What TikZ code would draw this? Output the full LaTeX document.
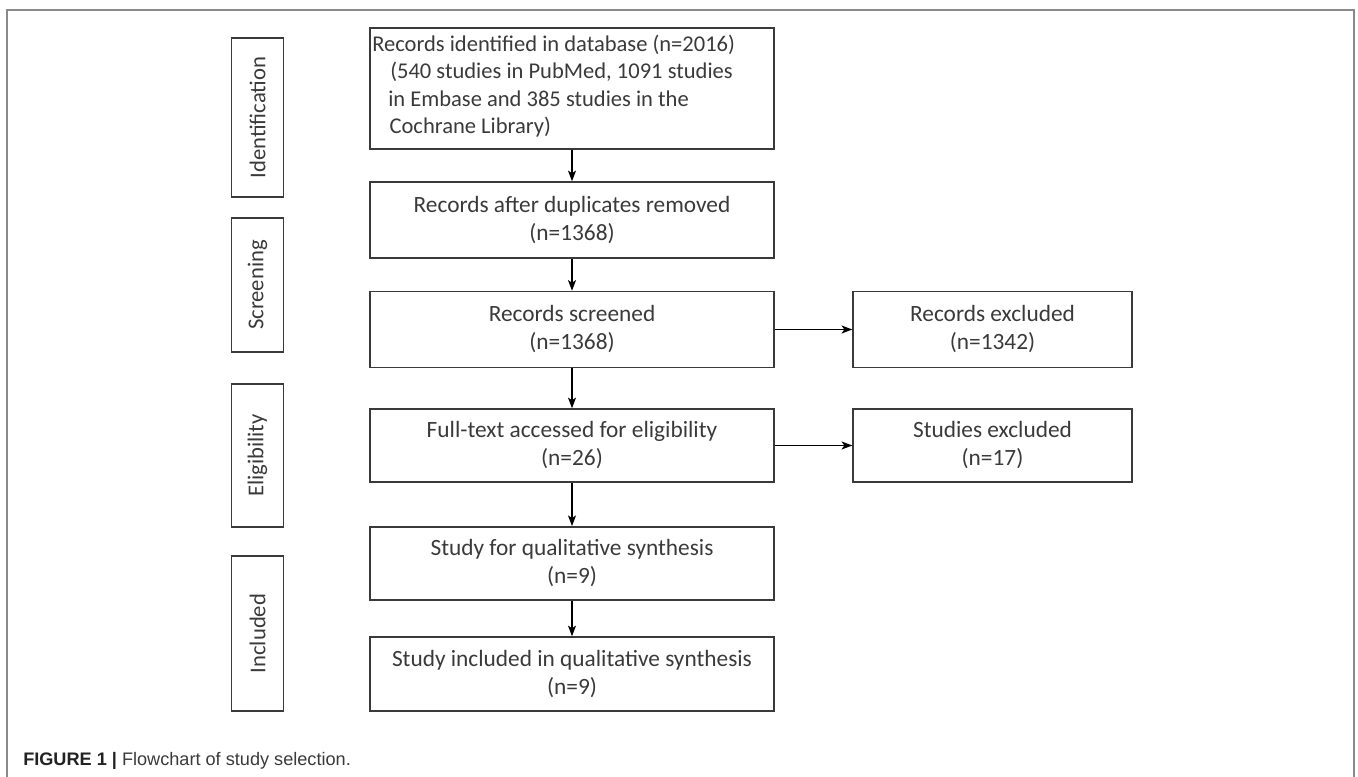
\documentclass[tikz,border=0pt]{standalone}
\usepackage{fontspec}
\setmainfont{Carlito}
\newfontfamily\capfont{Liberation Sans}
\usetikzlibrary{arrows.meta}
\definecolor{boxc}{HTML}{3A3A3A}
\definecolor{txtc}{HTML}{3A3A3A}
\definecolor{framec}{HTML}{8A8A8A}
\definecolor{capc}{HTML}{222222}
\newcommand\mainfnt{\fontsize{17.5}{21}\selectfont}
\newcommand\firstfnt{\fontsize{16.9}{20.6}\selectfont}
\newcommand\sidefnt{\fontsize{17}{20}\selectfont}
\begin{document}
\lineskiplimit=-20pt\relax
\begin{tikzpicture}[x=0.75pt,y=-0.75pt,
  every node/.style={text=txtc},
  box/.style={draw=boxc, line width=1.1pt, minimum width=303pt, align=center,
    inner sep=0pt, font=\mainfnt},
  exbox/.style={box, minimum width=209.25pt},
  side/.style={draw=boxc, line width=1.1pt, rotate=90, minimum height=39pt,
    inner sep=0pt, font=\sidefnt},
  arr/.style={draw=black, line width=1pt, -{Stealth[length=8pt,width=6pt,inset=2pt]}},
  captxt/.style={anchor=base west, inner sep=0pt, text=capc, font=\capfont\fontsize{13.6}{16}\selectfont}
]
\useasboundingbox (0,0) rectangle (1358,777);
\draw[framec, line width=1.5pt] (7,777) -- (7,10) -- (1354,10) -- (1354,777);

% stage labels
\node[side, minimum width=119.25pt] (sid) at (257.5,117.5) {Identification};
\node[side, minimum width=100.5pt] (ssc) at (257.5,285) {Screening};
\node[side, minimum width=107.25pt] (sel) at (257.5,455.5) {Eligibility};
\node[side, minimum width=116.25pt] (sin) at (257.5,633.5) {Included};

% main boxes
\node[box, minimum height=90.75pt] (b1) at (572,88.5) {};
\node[anchor=west, align=left, inner sep=0pt, font=\firstfnt] (b1t) at (372,86)
  {Records identified in database (n=2016)\\
   \hspace*{13.5pt}(540 studies in PubMed, 1091 studies\\
   \hspace*{12pt}in Embase and 385 studies in the\\
   \hspace*{13pt}Cochrane Library)};
\node[box, minimum height=57pt] (b2) at (572,220) {Records after duplicates removed\\(n=1368)};
\node[box, minimum height=57pt] (b3) at (572,329.5) {Records screened\\(n=1368)};
\node[box, minimum height=54.75pt] (b4) at (572,445.5) {Full-text accessed for eligibility\\(n=26)};
\node[box, minimum height=55pt] (b5) at (572,563.5) {Study for qualitative synthesis\\(n=9)};
\node[box, minimum height=55.5pt] (b6) at (572,674) {Study included in qualitative synthesis\\(n=9)};

% exclusion boxes
\node[exbox, minimum height=57pt] (e1) at (992.5,329.5) {Records excluded\\(n=1342)};
\node[exbox, minimum height=54.75pt] (e2) at (992.5,445.5) {Studies excluded\\(n=17)};

% connectors
\draw[arr] (b1) -- (b2);
\draw[arr] (b2) -- (b3);
\draw[arr] (b3) -- (b4);
\draw[arr] (b4) -- (b5);
\draw[arr] (b5) -- (b6);
\draw[arr] (b3) -- (e1);
\draw[arr] (b4) -- (e2);

% caption
\node[captxt] (capt) at (23,765) {\textbf{FIGURE 1 \textbar} {\color{txtc}Flowchart of study selection.}};
\end{tikzpicture}
\end{document}
